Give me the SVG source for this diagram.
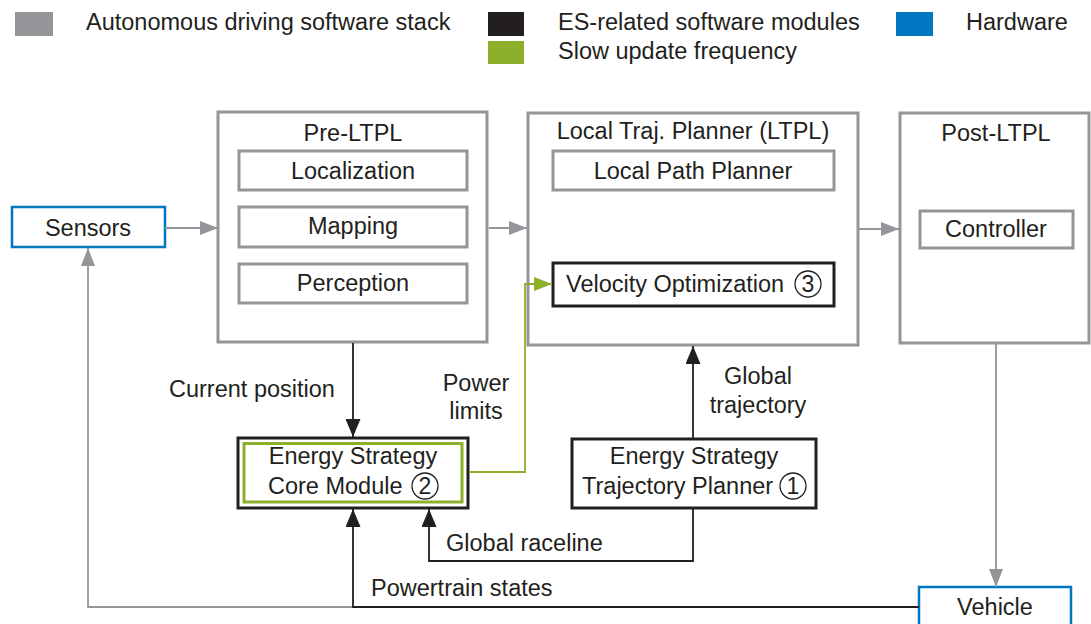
<svg xmlns="http://www.w3.org/2000/svg" width="1091" height="624" viewBox="0 0 1091 624">
  <style>
    text { font-family: "Liberation Sans", Arial, sans-serif; font-size: 23.5px; fill: #231f20; }
    .c { text-anchor: middle; }
    .num { font-size: 23px; text-anchor: middle; }
    .stack { fill: #ffffff; stroke: #939598; stroke-width: 3; }
    .es { fill: #ffffff; stroke: #231f20; stroke-width: 3; }
    .slow { fill: none; stroke: #8db02a; stroke-width: 3; }
    .hw { fill: #ffffff; stroke: #0077c0; stroke-width: 2.5; }
    .ring { fill: none; stroke: #231f20; stroke-width: 1.3; }
    .lg { stroke: #939598; stroke-width: 1.8; fill: none; }
    .lb { stroke: #231f20; stroke-width: 1.8; fill: none; }
    .lgr { stroke: #8db02a; stroke-width: 1.8; fill: none; }
  </style>
  <defs>
    <marker id="ahGray" markerUnits="userSpaceOnUse" markerWidth="18" markerHeight="14" refX="18" refY="7" orient="auto">
      <path d="M0,0 L18,7 L0,14 z" fill="#939598"/>
    </marker>
    <marker id="ahBlack" markerUnits="userSpaceOnUse" markerWidth="18" markerHeight="15" refX="18" refY="7.5" orient="auto">
      <path d="M0,0 L18,7.5 L0,15 z" fill="#231f20"/>
    </marker>
    <marker id="ahGreen" markerUnits="userSpaceOnUse" markerWidth="18" markerHeight="14" refX="18" refY="7" orient="auto">
      <path d="M0,0 L18,7 L0,14 z" fill="#8db02a"/>
    </marker>
  </defs>

  <!-- legend -->
  <g id="legend">
    <rect x="15" y="12" width="38" height="24" fill="#939598"/>
    <text x="86" y="30">Autonomous driving software stack</text>
    <rect x="488" y="12" width="36" height="24" fill="#231f20"/>
    <rect x="488" y="41" width="36" height="23" fill="#8db02a"/>
    <text x="558" y="30">ES-related software modules</text>
    <text x="558" y="59">Slow update frequency</text>
    <rect x="896" y="12" width="37" height="24" fill="#0077c0"/>
    <text x="966" y="30">Hardware</text>
  </g>

  <g id="sensors">
    <rect class="hw" x="12" y="207" width="153" height="40"/>
    <text class="c" x="88" y="236">Sensors</text>
  </g>

  <g id="pre-ltpl">
    <rect class="stack" x="218" y="112" width="269" height="230"/>
    <text class="c" x="353" y="141">Pre-LTPL</text>
    <rect class="stack" x="239" y="151" width="228" height="39"/>
    <text class="c" x="353" y="179">Localization</text>
    <rect class="stack" x="239" y="207" width="228" height="40"/>
    <text class="c" x="353" y="234">Mapping</text>
    <rect class="stack" x="239" y="264" width="228" height="39"/>
    <text class="c" x="353" y="291">Perception</text>
  </g>

  <g id="ltpl">
    <rect class="stack" x="528" y="113" width="330" height="232"/>
    <text class="c" x="693" y="139">Local Traj. Planner (LTPL)</text>
    <rect class="stack" x="553" y="151" width="281" height="39"/>
    <text class="c" x="693" y="179">Local Path Planner</text>
  </g>

  <g id="velocity-optimization">
    <rect class="es" x="553" y="263" width="281" height="43"/>
    <text x="566" y="292">Velocity Optimization</text>
    <circle class="ring" cx="808" cy="284" r="13"/>
    <text class="num" x="808" y="292">3</text>
  </g>

  <g id="post-ltpl">
    <rect class="stack" x="900" y="113" width="189" height="230"/>
    <text class="c" x="996" y="141">Post-LTPL</text>
    <rect class="stack" x="920" y="211" width="153" height="37"/>
    <text class="c" x="996" y="237">Controller</text>
  </g>

  <g id="core-module">
    <rect class="es" x="238" y="438" width="230" height="70"/>
    <rect class="slow" x="244" y="443.5" width="218" height="58.5"/>
    <text class="c" x="353" y="464">Energy Strategy</text>
    <text x="268" y="494">Core Module</text>
    <circle class="ring" cx="425" cy="486" r="13"/>
    <text class="num" x="425" y="494">2</text>
  </g>

  <g id="trajectory-planner">
    <rect class="es" x="572" y="439" width="244" height="69"/>
    <text class="c" x="694" y="464">Energy Strategy</text>
    <text x="582" y="494">Trajectory Planner</text>
    <circle class="ring" cx="793" cy="486" r="13"/>
    <text class="num" x="793" y="494">1</text>
  </g>

  <g id="vehicle">
    <rect class="hw" x="919" y="587" width="152" height="45"/>
    <text class="c" x="995" y="615">Vehicle</text>
  </g>

  <!-- connectors, drawn over the boxes -->
  <g id="connectors">
    <path class="lg" d="M165,228 L218,228" marker-end="url(#ahGray)"/>
    <path class="lg" d="M489,228 L527,228" marker-end="url(#ahGray)"/>
    <path class="lg" d="M859,229 L899,229" marker-end="url(#ahGray)"/>
    <path class="lg" d="M996,344 L996,587" marker-end="url(#ahGray)"/>
    <path class="lb" d="M353,343 L353,437" marker-end="url(#ahBlack)"/>
    <path class="lb" d="M693,438 L693,346" marker-end="url(#ahBlack)"/>
    <path class="lgr" d="M469,472 L525,472 L525,284 L552,284" marker-end="url(#ahGreen)"/>
    <path class="lb" d="M693,509 L693,561 L429,561 L429,509" marker-end="url(#ahBlack)"/>
    <path class="lg" d="M353,607 L88,607 L88,248" marker-end="url(#ahGray)"/>
    <path class="lb" d="M919,607 L353,607 L353,509" marker-end="url(#ahBlack)"/>
    <text x="169" y="397">Current position</text>
    <text class="c" x="476" y="391">Power</text>
    <text class="c" x="476" y="419">limits</text>
    <text class="c" x="758" y="384">Global</text>
    <text class="c" x="758" y="413">trajectory</text>
    <text x="446" y="551">Global raceline</text>
    <text x="371" y="596">Powertrain states</text>
  </g>
</svg>
